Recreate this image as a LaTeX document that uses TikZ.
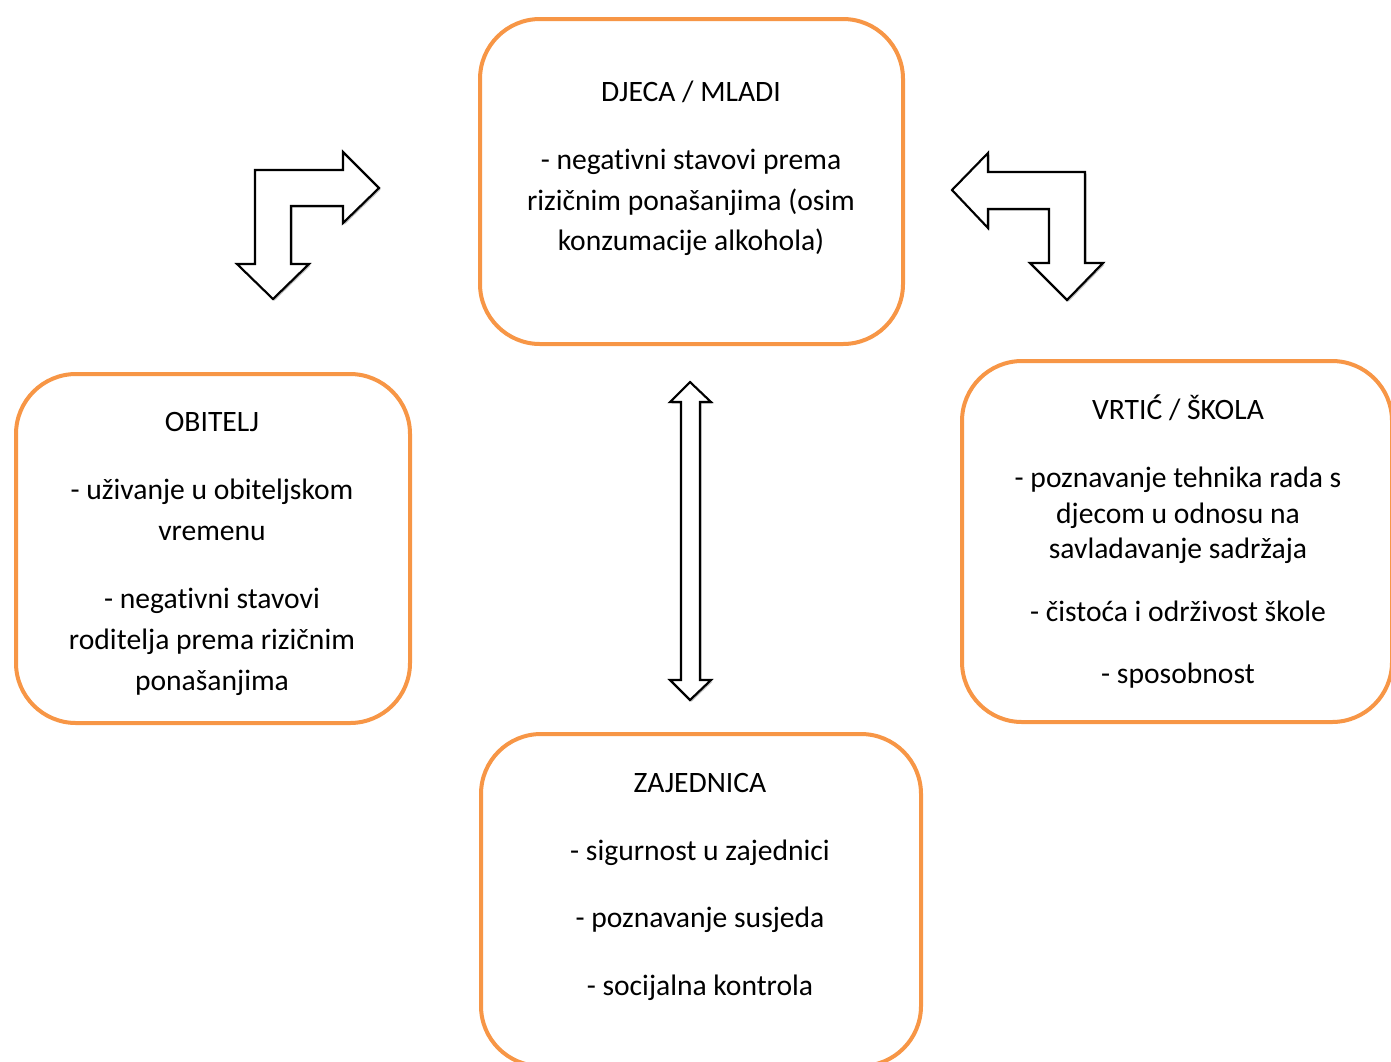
\documentclass[tikz,border=0pt]{standalone}
\usepackage{fontspec}
\setmainfont[Ligatures=NoCommon,Contextuals=NoAlternate,RawFeature={-liga;-clig;-calt;-dlig}]{Carlito}
\usetikzlibrary{shadows}
\definecolor{boxorange}{HTML}{F79646}
\tikzset{
  box/.style={draw=boxorange, line width=3pt, rounded corners=45pt, fill=white, inner sep=0pt},
  txt/.style={anchor=base, inner sep=0pt, font=\fontsize{22.2pt}{26pt}\selectfont},
  blockarrow/.style={draw=black, line width=1.6pt, fill=white, line join=miter,
    drop shadow={shadow xshift=1.2pt, shadow yshift=-1.2pt, fill=black, opacity=0.25}}
}
\begin{document}
\begin{tikzpicture}[x=0.75pt,y=-0.75pt]
\useasboundingbox (0,0) rectangle (1391,1061);
\clip (0,0) rectangle (1391,1061);
% boxes
\node[box, minimum width=423*0.75pt, minimum height=325*0.75pt] (djeca) at (691.5,181.5) {};
\node[box, minimum width=394*0.75pt, minimum height=349*0.75pt] (obitelj) at (213,548.5) {};
\node[box, minimum width=430*0.75pt, minimum height=361*0.75pt] (vrtic) at (1177,541.5) {};
\node[box, minimum width=440*0.75pt, minimum height=332*0.75pt] (zajednica) at (701,900) {};
% DJECA texts
\node[txt] (d1) at (691,101) {DJECA / MLADI};
\node[txt] (d2) at (691,169) {- negat\kern0ptivni stavovi prema};
\node[txt] (d3) at (691,210) {rizičnim ponašanjima (osim};
\node[txt] (d4) at (691,250) {konzumacije alkohola)};
% OBITELJ texts
\node[txt] (o1) at (212,431) {OBITELJ};
\node[txt] (o2) at (212,499) {- uživanje u obiteljskom};
\node[txt] (o3) at (212,540) {vremenu};
\node[txt] (o4) at (212,608) {- negat\kern0ptivni stavovi};
\node[txt] (o5) at (212,649) {rodit\kern0ptelja prema rizičnim};
\node[txt] (o6) at (212,690) {ponašanjima};
% VRTIC texts
\node[txt] (v1) at (1178,419) {VRTIĆ / ŠKOLA};
\node[txt] (v2) at (1178,487) {- poznavanje tehnika rada s};
\node[txt] (v3) at (1178,523) {djecom u odnosu na};
\node[txt] (v4) at (1178,558) {savladavanje sadržaja};
\node[txt] (v5) at (1178,621) {- čistoća i održivost škole};
\node[txt] (v6) at (1178,683) {- sposobnost};
% ZAJEDNICA texts
\node[txt] (z1) at (700,792) {ZAJEDNICA};
\node[txt] (z2) at (700,860) {- sigurnost u zajednici};
\node[txt] (z3) at (700,927) {- poznavanje susjeda};
\node[txt] (z4) at (700,995) {- socijalna kontrola};
% left bent arrow
\draw[blockarrow] (237,264) -- (255,264) -- (255,170) -- (343,170) -- (343,152) -- (379,188)
  -- (343,223) -- (343,206) -- (291,206) -- (291,264) -- (309,264) -- (273,299) -- cycle;
% right bent arrow
\draw[blockarrow] (952,190) -- (988,153) -- (988,172) -- (1085,172) -- (1085,263) -- (1103,263)
  -- (1067,300) -- (1030,263) -- (1049,263) -- (1049,209) -- (988,209) -- (988,228) -- cycle;
% double vertical arrow
\draw[blockarrow] (690,382) -- (711,402) -- (700,402) -- (700,680) -- (711,680) -- (690,700)
  -- (670,680) -- (681,680) -- (681,402) -- (670,402) -- cycle;
\end{tikzpicture}
\end{document}
